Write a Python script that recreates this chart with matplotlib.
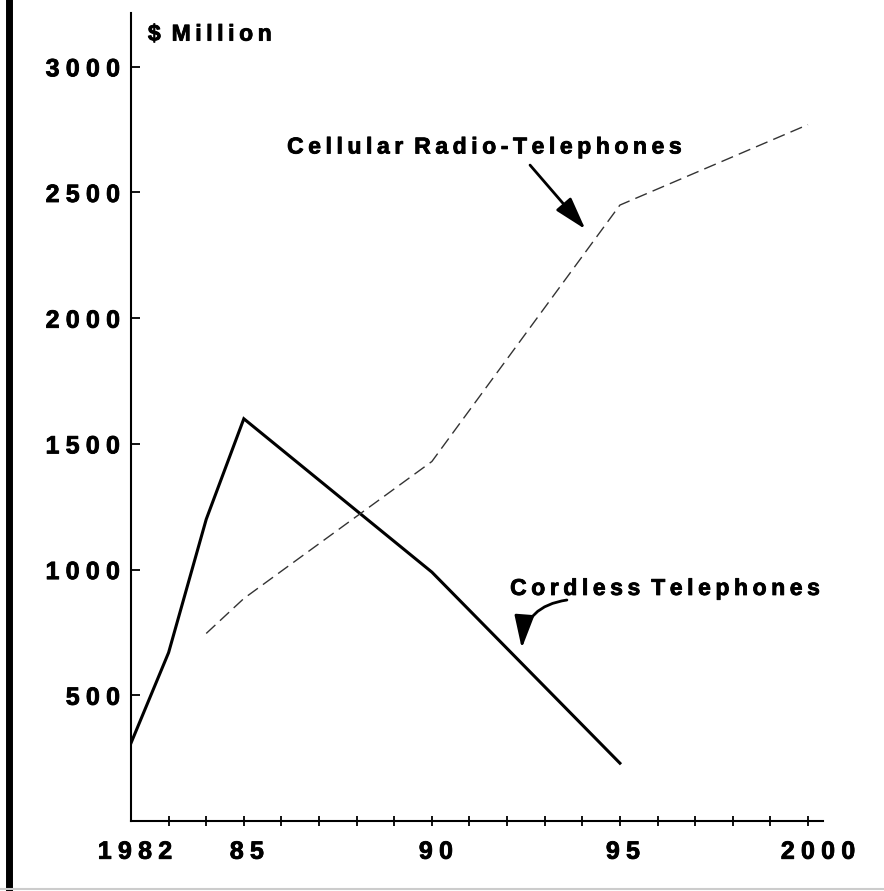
import matplotlib
matplotlib.use('Agg')
import matplotlib.pyplot as plt
import matplotlib.transforms as mtransforms
import matplotlib.patheffects as pe
from matplotlib.lines import Line2D

# data ($ million)
cordless_years = [1982, 1983, 1984, 1985, 1990, 1995]
cordless_sales = [310, 670, 1200, 1600, 990, 230]
cellular_years = [1984, 1985, 1990, 1995, 2000]
cellular_sales = [746, 885, 1430, 2450, 2770]
x_major = [1982, 1985, 1990, 1995, 2000]
x_labels = ['1982', '85', '90', '95', '2000']
y_major = [500, 1000, 1500, 2000, 2500, 3000]

FAM = ['Liberation Sans', 'DejaVu Sans']
HEAVY = [pe.withStroke(linewidth=0.6, foreground='black')]


def spaced(s, gap='\u2009'):
    # wide letter spacing like the old typeset chart
    return gap.join(s)


plt.rcParams['font.family'] = FAM
plt.rcParams['font.weight'] = 'bold'

fig = plt.figure(figsize=(8.84, 8.91), dpi=100)
W, H = 884, 891
ax = fig.add_axes([131 / W, 1 - 821 / H, (823 - 131) / W, (821 - 13) / H])

ax.plot(cordless_years, cordless_sales, color='black', lw=2.2,
        solid_joinstyle='miter')
ax.plot(cellular_years, cellular_sales, color='#333333', lw=1.0,
        linestyle=(0, (9, 4.5)))

ax.set_xlim(1982, 2000.4)
ax.set_ylim(0, 3214)

for s in ['top', 'right']:
    ax.spines[s].set_visible(False)
for s in ['left', 'bottom']:
    ax.spines[s].set_linewidth(1.5)

ax.set_xticks(x_major)
ax.set_xticks(range(1983, 2000), minor=True)
ax.set_xticklabels([spaced(l, '\u2005') for l in x_labels], fontsize=18,
                   fontweight='bold')
ax.set_yticks(y_major)
ax.set_yticklabels([spaced(str(v), '\u2005') for v in y_major], fontsize=18,
                   fontweight='bold')
ax.tick_params(axis='x', which='both', direction='inout', length=7, width=1.3,
               pad=10)
ax.tick_params(axis='y', direction='in', length=6.5, width=1.3, pad=8)
ax.xaxis.get_major_ticks()[0].tick1line.set_visible(False)

x_shift = [4, 3, 4, 3, 10]
for lab, dx in zip(ax.get_xticklabels(), x_shift):
    off = mtransforms.ScaledTranslation(dx / 100, 0, fig.dpi_scale_trans)
    lab.set_transform(lab.get_transform() + off)
for lab in ax.get_xticklabels() + ax.get_yticklabels():
    lab.set_path_effects(HEAVY)

t = ax.text(1982.45, 3130, spaced('$') + '\u2009 ' + spaced('Million'),
            fontsize=16.5, fontweight='bold', va='center', ha='left')
t.set_path_effects(HEAVY)

t = ax.text(1986.15, 2681, spaced('Cellular') + '\u2009 ' + spaced('Radio-Telephones'),
            fontsize=16.5, fontweight='bold', va='center', ha='left')
t.set_path_effects(HEAVY)
ax.annotate('', xy=(1994.08, 2354), xytext=(1992.61, 2609),
            arrowprops=dict(arrowstyle='-|>,head_length=1.0,head_width=0.3',
                            color='black', lw=2, mutation_scale=20,
                            shrinkA=0, shrinkB=0))

t = ax.text(1992.08, 925, spaced('Cordless') + '\u2009 ' + spaced('Telephones'),
            fontsize=16.5, fontweight='bold', va='center', ha='left')
t.set_path_effects(HEAVY)
ax.annotate('', xy=(1992.39, 687), xytext=(1993.59, 879),
            arrowprops=dict(arrowstyle='-|>,head_length=1.0,head_width=0.3',
                            color='black', lw=2, mutation_scale=20,
                            shrinkA=0, shrinkB=0,
                            connectionstyle='arc3,rad=0.4'))

# thick rule at the left of the page and faint rule at the bottom
fig.add_artist(Line2D([8.5 / W, 8.5 / W], [0.0, 1.0], color='black', lw=5,
                      transform=fig.transFigure))
fig.add_artist(Line2D([0, 1], [2 / H, 2 / H], color='#cccccc', lw=1.5,
                      transform=fig.transFigure))

fig.savefig('out.png', dpi=100)
